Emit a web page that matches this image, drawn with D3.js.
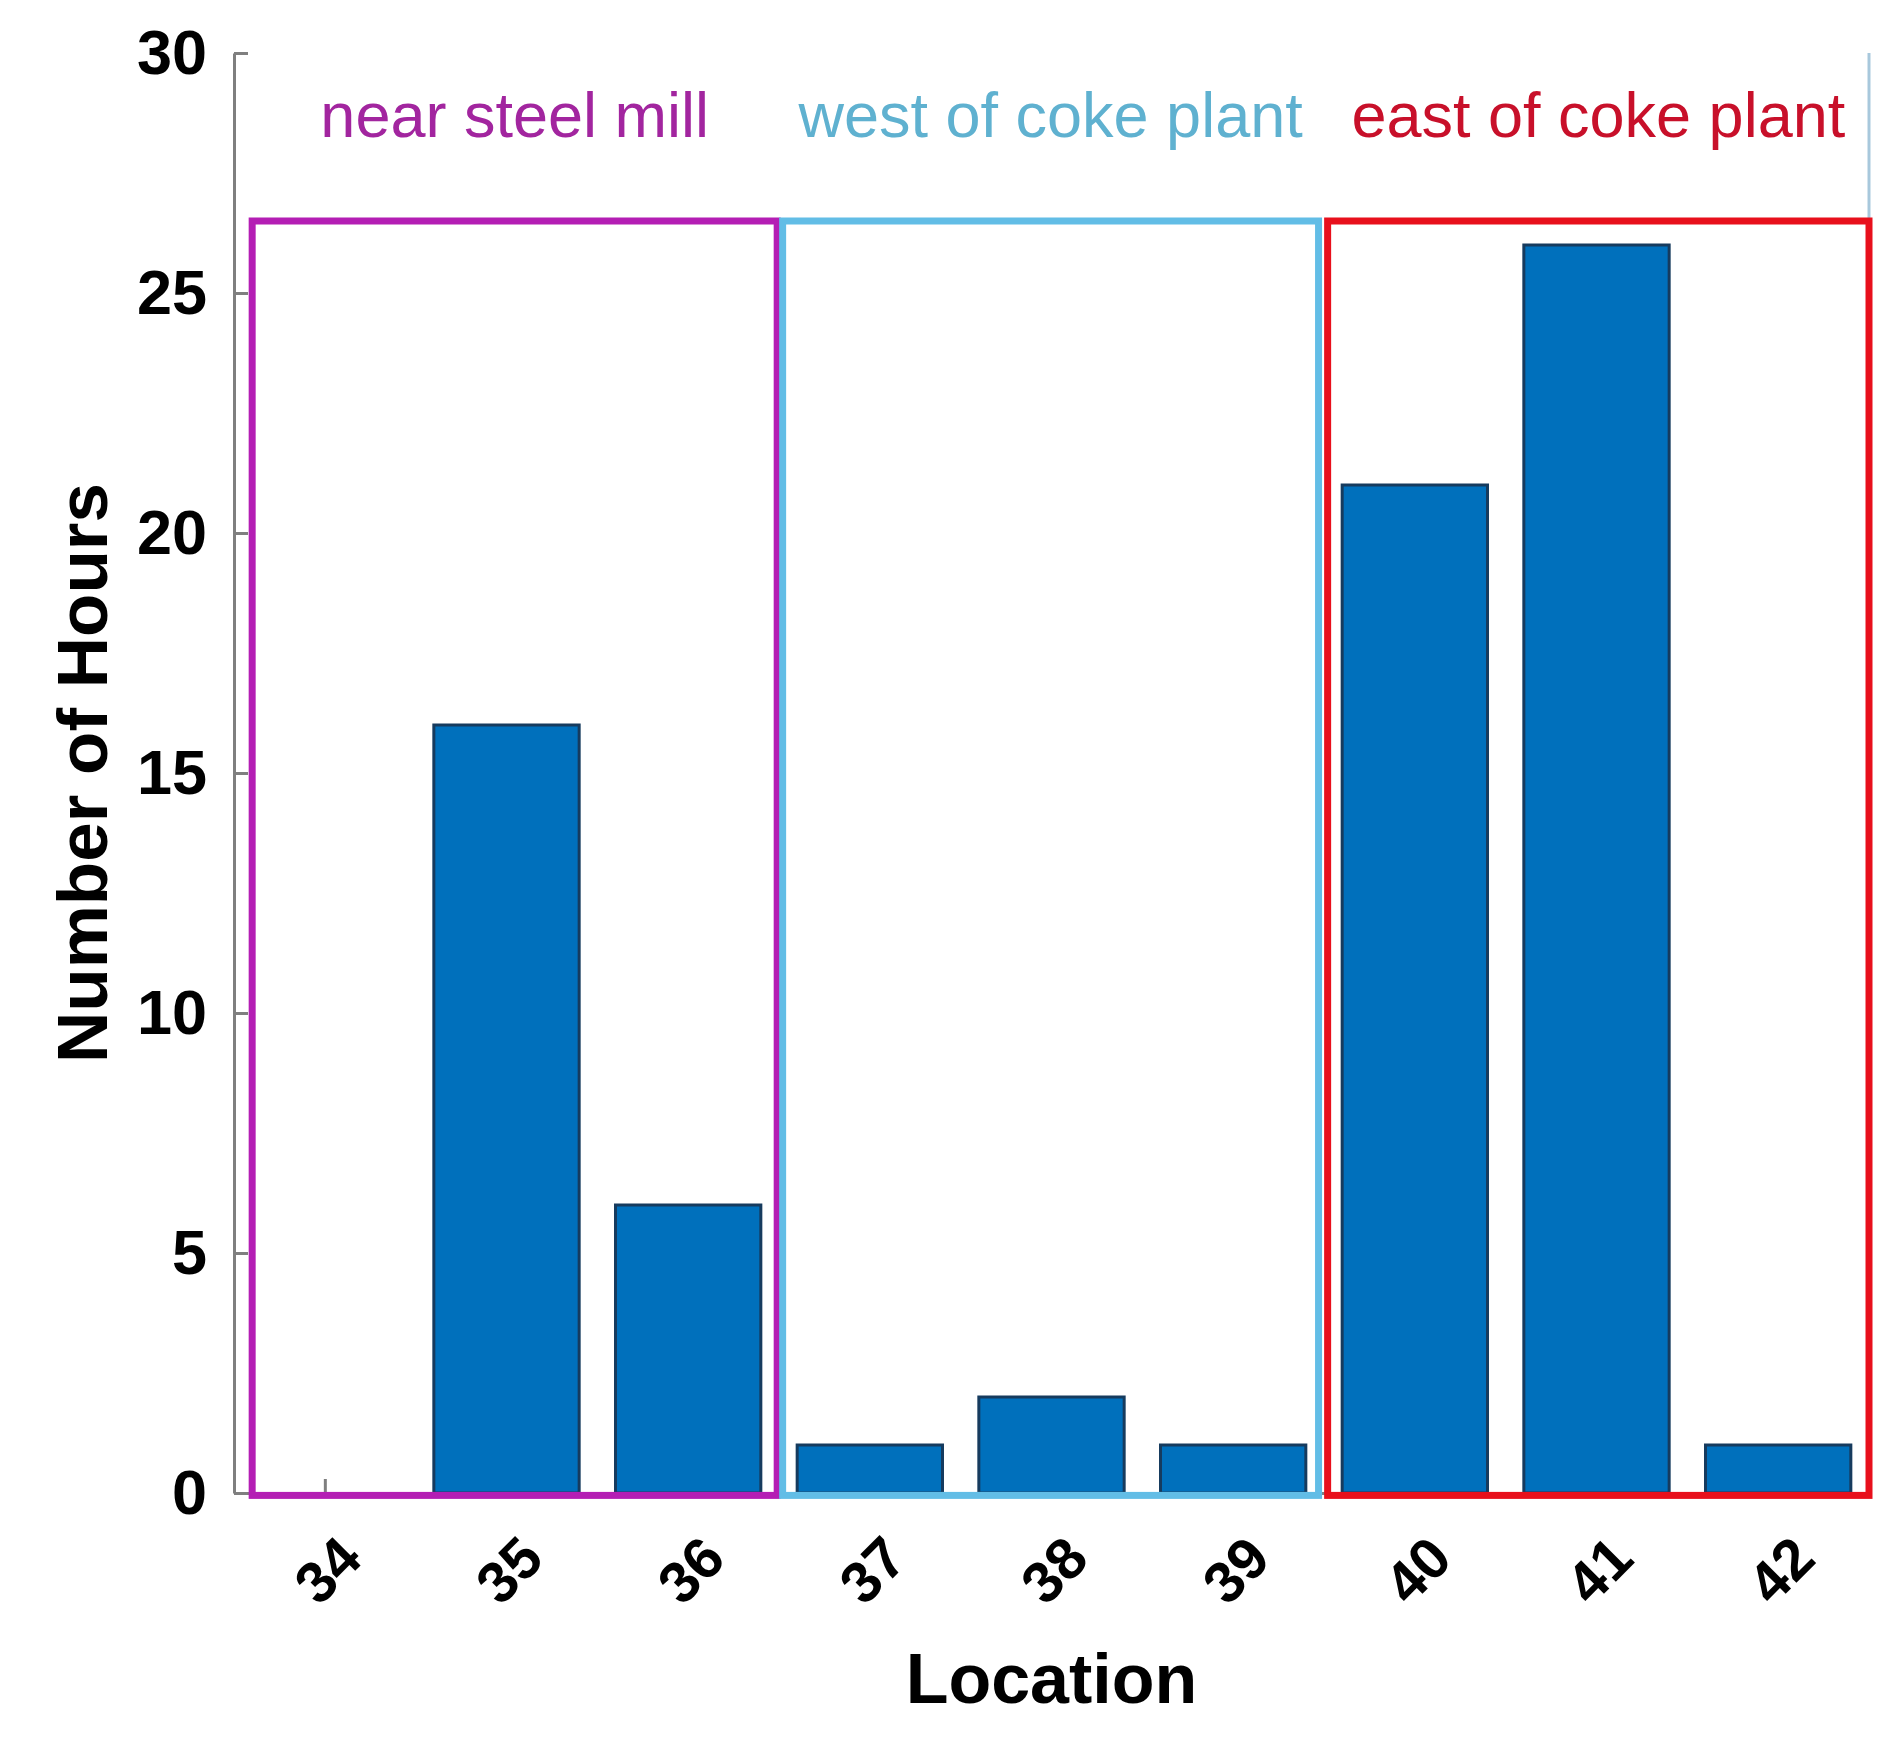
<!DOCTYPE html>
<html>
<head>
<meta charset="utf-8">
<script src="https://cdn.jsdelivr.net/npm/d3@7"></script>
<style>
  body { margin: 0; background: #fff; }
  text { font-family: "Liberation Sans", Arial, sans-serif; }
</style>
</head>
<body>
<div id="chart"></div>
<script>
// data
var locations = [34, 35, 36, 37, 38, 39, 40, 41, 42]
var hours = [0, 16, 6, 1, 2, 1, 21, 26, 1]
var yTicks = [0, 5, 10, 15, 20, 25, 30]

var groupNames = ["near steel mill", "west of coke plant", "east of coke plant"]
var groupStart = [33.6, 36.52, 39.52]
var groupEnd = [36.49, 39.47, 42.5]
var groupTop = 26.5
var groupBottom = -0.05
var groupLine = ["#b41eb4", "#62bde6", "#e8101c"]
var groupText = ["#a2259f", "#5fb1d0", "#c8102a"]

var width = 1899
var height = 1751

drawChart()

function drawChart(){
    var svg = d3.select("#chart")
        .append("svg")
        .attr("width", width)
        .attr("height", height)
        .style("background", "#fff")

    var x = d3.scaleLinear().domain([33.5, 42.5]).range([234, 1869])
    var y = d3.scaleLinear().domain([0, 30]).range([1493, 53])

    // y axis, ticks pointing inward like matlab
    var yAxis = svg.append("g")
        .attr("transform", "translate(" + x(33.5) + ",0)")
        .call(d3.axisLeft(y).tickValues(yTicks).tickSize(-14).tickSizeOuter(0).tickPadding(27))
    yAxis.select(".domain").attr("stroke", "#7f7f7f").attr("stroke-width", 3)
    yAxis.selectAll(".tick line").attr("stroke", "#7f7f7f").attr("stroke-width", 3)
    yAxis.selectAll(".tick text")
        .attr("fill", "#000")
        .style("font-size", "63px")
        .style("font-weight", "bold")

    // x axis
    var xAxis = svg.append("g")
        .attr("transform", "translate(0," + y(0) + ")")
        .call(d3.axisBottom(x).tickValues(locations).tickSize(-14).tickSizeOuter(0))
    xAxis.select(".domain").attr("stroke", "#7f7f7f").attr("stroke-width", 3)
    xAxis.selectAll(".tick line").attr("stroke", "#7f7f7f").attr("stroke-width", 3)
    xAxis.selectAll(".tick text")
        .attr("fill", "#000")
        .attr("y", 0)
        .attr("dy", "0.35em")
        .attr("text-anchor", "middle")
        .attr("transform", "translate(2,77) rotate(-45)")
        .style("font-size", "58px")
        .style("font-weight", "bold")

    // faint right edge above the boxes
    svg.append("line")
        .attr("x1", x(42.5)).attr("x2", x(42.5))
        .attr("y1", y(30)).attr("y2", y(groupTop))
        .attr("stroke", "#a8c8dc")
        .attr("stroke-width", 3)

    // bars
    svg.selectAll("rect.bar")
        .data(hours)
        .enter()
        .append("rect")
        .attr("class", "bar")
        .attr("x", function(d, i) { return x(locations[i] - 0.4) })
        .attr("y", function(d) { return y(d) })
        .attr("width", function(d, i) { return x(locations[i] + 0.4) - x(locations[i] - 0.4) })
        .attr("height", function(d) { return y(0) - y(d) })
        .attr("fill", "#0070bc")
        .attr("stroke", function(d) { return d > 0 ? "#163b5e" : "none" })
        .attr("stroke-width", 3)

    // group boxes
    svg.selectAll("rect.group")
        .data(groupNames)
        .enter()
        .append("rect")
        .attr("class", "group")
        .attr("x", function(d, i) { return x(groupStart[i]) })
        .attr("y", y(groupTop))
        .attr("width", function(d, i) { return x(groupEnd[i]) - x(groupStart[i]) })
        .attr("height", y(groupBottom) - y(groupTop))
        .attr("fill", "none")
        .attr("stroke", function(d, i) { return groupLine[i] })
        .attr("stroke-width", 7)

    svg.selectAll("text.group")
        .data(groupNames)
        .enter()
        .append("text")
        .attr("class", "group")
        .attr("x", function(d, i) { return (x(groupStart[i]) + x(groupEnd[i])) / 2 })
        .attr("y", 137)
        .attr("text-anchor", "middle")
        .attr("fill", function(d, i) { return groupText[i] })
        .style("font-size", "63px")
        .text(function(d) { return d })

    // axis titles
    svg.append("text")
        .attr("x", (x(33.5) + x(42.5)) / 2)
        .attr("y", 1703)
        .attr("text-anchor", "middle")
        .style("font-size", "70px")
        .style("font-weight", "bold")
        .text("Location")

    svg.append("text")
        .attr("transform", "translate(107," + (y(0) + y(30)) / 2 + ") rotate(-90)")
        .attr("text-anchor", "middle")
        .style("font-size", "71px")
        .style("font-weight", "bold")
        .text("Number of Hours")
}
</script>
</body>
</html>
